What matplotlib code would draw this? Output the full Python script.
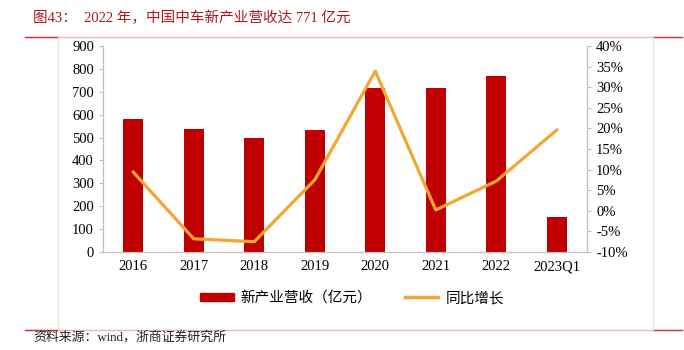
import matplotlib.pyplot as plt
from matplotlib.lines import Line2D
from matplotlib.patches import Patch

years = ['2016', '2017', '2018', '2019', '2020', '2021', '2022', '2023Q1']
revenue = [580, 538, 497, 535, 715, 718, 771, 152]
growth = [9.4, -6.8, -7.5, 7.5, 33.9, 0.2, 7.2, 19.6]

mixed = ['Liberation Serif', 'Noto Sans CJK SC']
red = '#C00000'
orange = '#F4A532'

fig = plt.figure(figsize=(6.84, 3.5), dpi=100)

# frame lines
fig.add_artist(Line2D([25 / 684, 682 / 684], [1 - 37 / 350] * 2, color='#EBB5B5', lw=1))
fig.add_artist(Line2D([25 / 684, 58 / 684], [1 - 37 / 350] * 2, color='#D23C3C', lw=1))
fig.add_artist(Line2D([653 / 684, 682 / 684], [1 - 37 / 350] * 2, color='#D23C3C', lw=1))
fig.add_artist(Line2D([25 / 684, 682 / 684], [1 - 330 / 350] * 2, color='#EBB5B5', lw=1))
fig.add_artist(Line2D([25 / 684, 58 / 684], [1 - 330 / 350] * 2, color='#D23C3C', lw=1))
fig.add_artist(Line2D([653 / 684, 682 / 684], [1 - 330 / 350] * 2, color='#D23C3C', lw=1))
for x in (58, 653):
    fig.add_artist(Line2D([x / 684] * 2, [1 - 330 / 350, 1 - 37 / 350], color='#E4E4E4', lw=1))

fig.text(33 / 684, 1 - 18 / 350, '图43：  2022 年，中国中车新产业营收达 771 亿元',
         family=mixed, fontsize=10.5, color='#B01818', va='center')
fig.text(33 / 684, 1 - 337 / 350, '资料来源：wind，浙商证券研究所',
         family=mixed, fontsize=9.3, color='#222222', va='center')

ax = fig.add_axes([103 / 684, 1 - 252 / 350, 484 / 684, 206 / 350])
x = range(len(years))
ax.bar(x, revenue, width=0.33, color=red, zorder=2)
ax.set_ylim(0, 900)
ax.set_yticks(range(0, 901, 100))
ax.set_xlim(-0.5, len(years) - 0.5)
ax.set_xticks(list(x))
ax.set_xticklabels(years)

ax2 = ax.twinx()
ax2.plot(list(x), growth, color=orange, lw=2.3, zorder=3)
ax2.set_ylim(-10, 40)
ax2.set_yticks(range(-10, 41, 5))
ax2.set_yticklabels([f'{v}%' for v in range(-10, 41, 5)])

for a in (ax, ax2):
    for s in a.spines.values():
        s.set_color('#BFBFBF')
    a.spines['top'].set_visible(False)
    a.tick_params(colors='#BFBFBF', labelcolor='#000000', length=3, labelsize=10.5)
    for lab in a.get_xticklabels() + a.get_yticklabels():
        lab.set_family('Liberation Serif')
ax.tick_params(axis='x', length=0, pad=6)

handles = [Patch(color=red), Line2D([], [], color=orange, lw=2.5)]
fig.legend(handles, ['新产业营收（亿元）', '同比增长'], loc='center',
           bbox_to_anchor=(352 / 684, 1 - 298 / 350), ncol=2, frameon=False,
           prop={'family': 'Noto Sans CJK SC', 'size': 10.5},
           handlelength=2.3, handleheight=0.45, columnspacing=2.2, handletextpad=0.5)

fig.savefig('out.png', dpi=100)
